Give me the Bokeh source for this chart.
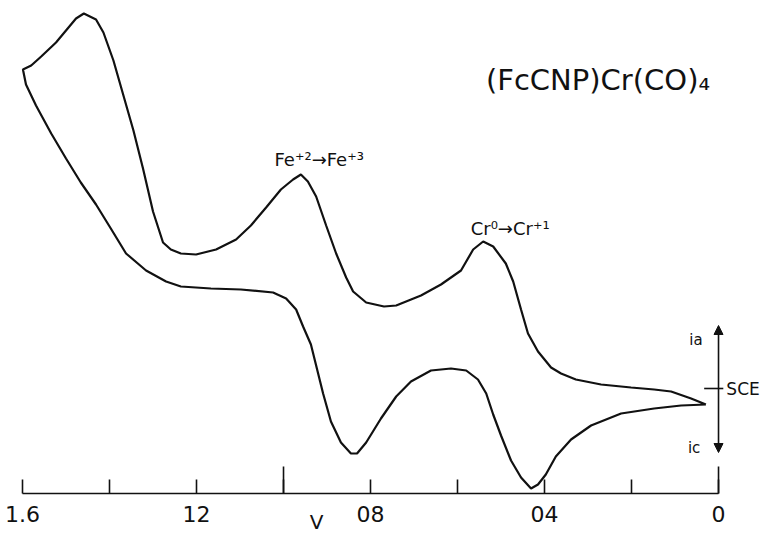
from bokeh.plotting import figure
from bokeh.models import Range1d, FixedTicker, Label, Arrow, NormalHead
from bokeh.embed import file_html
from bokeh.resources import INLINE

# ---- data (potential in V, current in arbitrary units, SCE = 0) ----
# anodic (forward) scan, 0 V -> 1.6 V
anodic_v = [0.029, 0.063, 0.109, 0.148, 0.201, 0.270, 0.328, 0.362, 0.385, 0.415,
            0.438, 0.454, 0.472, 0.489, 0.518, 0.541, 0.564, 0.592, 0.638, 0.684,
            0.741, 0.769, 0.810, 0.840, 0.856, 0.879, 0.902, 0.925, 0.944, 0.960,
            0.978, 1.006, 1.040, 1.075, 1.109, 1.155, 1.201, 1.236, 1.259, 1.277,
            1.300, 1.323, 1.345, 1.368, 1.391, 1.414, 1.431, 1.459, 1.477, 1.500,
            1.523, 1.557, 1.580, 1.599]
anodic_i = [-1.6, -1.0, -0.3, -0.1, 0.1, 0.4, 0.9, 1.5, 2.1, 3.7,
            5.5, 7.9, 10.7, 12.5, 14.2, 14.7, 13.9, 11.8, 10.4, 9.3,
            8.3, 8.2, 8.6, 9.7, 11.1, 13.5, 16.3, 19.2, 20.7, 21.4,
            20.9, 19.9, 18.1, 16.3, 14.9, 13.9, 13.4, 13.5, 13.9, 14.6,
            17.7, 22.0, 25.8, 29.3, 32.8, 35.6, 36.9, 37.5, 37.0, 35.8,
            34.6, 33.2, 32.3, 31.9]
# cathodic (return) scan, 1.6 V -> 0 V
cathodic_v = [1.599, 1.592, 1.569, 1.534, 1.500, 1.466, 1.431, 1.397, 1.362, 1.316,
              1.270, 1.236, 1.167, 1.098, 1.024, 0.994, 0.971, 0.955, 0.937, 0.925,
              0.909, 0.891, 0.868, 0.845, 0.831, 0.810, 0.776, 0.741, 0.707, 0.661,
              0.615, 0.580, 0.553, 0.534, 0.518, 0.500, 0.477, 0.454, 0.431, 0.415,
              0.397, 0.374, 0.339, 0.293, 0.224, 0.148, 0.086, 0.029]
cathodic_i = [31.9, 30.4, 28.3, 25.5, 23.0, 20.6, 18.4, 16.0, 13.5, 11.8,
              10.7, 10.2, 10.0, 9.9, 9.6, 9.0, 7.9, 6.2, 4.4, 2.3,
              -0.5, -3.3, -5.4, -6.5, -6.5, -5.4, -3.0, -0.8, 0.7, 1.8,
              2.0, 1.8, 0.9, -0.5, -2.6, -4.7, -7.2, -8.9, -10.0, -9.6,
              -8.6, -6.8, -5.1, -3.7, -2.5, -2.0, -1.7, -1.6]

tick_values = [0.0, 0.4, 0.8, 1.2, 1.6]
tick_labels = ["0", "04", "08", "12", "1.6"]
minor_tick_values = [0.2, 0.6, 1.0, 1.4]
long_tick_values = [1.0, 0.0]

title_text = "(FcCNP)Cr(CO)\u2084"
fe_text = "Fe\u207a\u00b2\u2192Fe\u207a\u00b3"
cr_text = "Cr\u2070\u2192Cr\u207a\u00b9"

FONT = "DejaVu Sans"
INK = "#111111"

axis_at = -10.5            # current level where the potential axis is drawn
y_lo, y_hi = -14.6, 38.8

p = figure(width=764, height=534, output_backend="svg", toolbar_location=None,
           x_range=Range1d(1.6506, -0.1057), y_range=Range1d(y_lo, y_hi),
           y_axis_location=None, min_border_left=0, min_border_right=0,
           min_border_top=0, min_border_bottom=0)
p.outline_line_color = None
p.xgrid.visible = False
p.ygrid.visible = False
p.background_fill_color = "white"
p.border_fill_color = "white"

ax = p.xaxis[0]
ax.fixed_location = axis_at
ax.ticker = FixedTicker(ticks=tick_values, minor_ticks=minor_tick_values)
ax.major_label_overrides = {v: t for v, t in zip(tick_values, tick_labels)}
ax.bounds = (0.0, 1.6)
ax.axis_line_color = INK
ax.axis_line_width = 1.6
ax.major_tick_in = 14
ax.major_tick_out = 0
ax.minor_tick_in = 14
ax.minor_tick_out = 0
ax.major_tick_line_color = INK
ax.major_tick_line_width = 1.6
ax.minor_tick_line_color = INK
ax.minor_tick_line_width = 1.6
ax.major_label_text_font = FONT
ax.major_label_text_font_size = "22px"
ax.major_label_text_color = INK
ax.major_label_standoff = 12

# voltammogram (closed loop)
p.line(anodic_v + cathodic_v, anodic_i + cathodic_i, line_color=INK, line_width=2.2)

# longer ticks at 1.0 V and 0 V
p.segment(x0=long_tick_values, y0=[axis_at] * 2, x1=long_tick_values, y1=[axis_at + 2.7] * 2,
          line_color=INK, line_width=1.6)

# current axis with arrows (i_a up, i_c down) and SCE mark
p.add_layout(Arrow(end=NormalHead(size=9, fill_color=INK, line_color=INK),
                   x_start=0, y_start=0, x_end=0, y_end=6.3,
                   line_color=INK, line_width=1.6))
p.add_layout(Arrow(end=NormalHead(size=9, fill_color=INK, line_color=INK),
                   x_start=0, y_start=0, x_end=0, y_end=-6.4,
                   line_color=INK, line_width=1.6))
p.segment(x0=[0.033], y0=[0.0], x1=[-0.011], y1=[0.0], line_color=INK, line_width=1.6)

def lab(x, y, text, size, align="center", baseline="middle"):
    p.add_layout(Label(x=x, y=y, text=text, text_font=FONT, text_font_size=size,
                       text_color=INK, text_align=align, text_baseline=baseline))

lab(0.277, 30.9, title_text, "29px")
lab(0.918, 22.9, fe_text, "18px")
lab(0.479, 16.0, cr_text, "18px")
lab(-0.018, 0.0, "SCE", "17px", align="left")
lab(0.052, 4.9, "ia", "15px")
lab(0.056, -5.9, "ic", "15px")
lab(0.924, -13.3, "V", "20px")

open("out.html", "w").write(file_html(p, INLINE))
